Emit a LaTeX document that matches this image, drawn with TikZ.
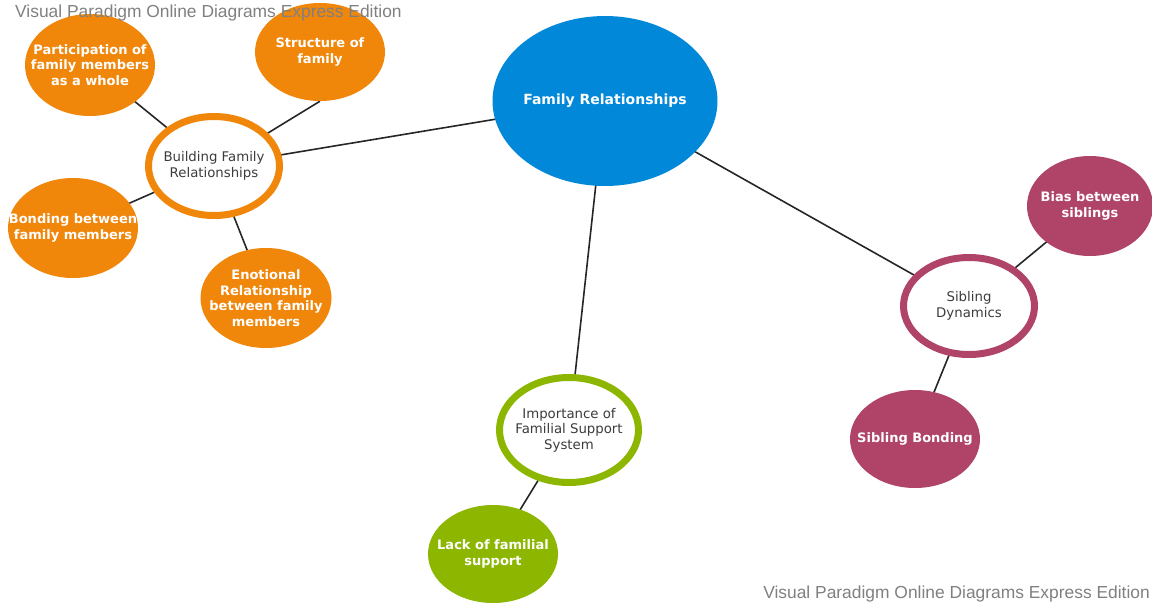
\documentclass[tikz,border=0pt]{standalone}
\usepackage{fontspec}
\setmainfont{Liberation Sans}
\newfontfamily\cfont{DejaVu Sans}
\usetikzlibrary{shapes.geometric,backgrounds}
\definecolor{vporange}{RGB}{240,134,10}
\definecolor{vpblue}{RGB}{2,136,216}
\definecolor{vpgreen}{RGB}{140,182,0}
\definecolor{vpmaroon}{RGB}{176,68,104}
\definecolor{ringtext}{RGB}{60,60,60}
\definecolor{wmgray}{RGB}{128,128,128}
\tikzset{
  x=1pt, y=-1pt,
  % filled bubble; its text is set as a centred label so the shape keeps its size
  bubble/.style={ellipse, inner sep=0pt},
  btext/.style={inner sep=0pt, text=white, align=center,
    font=\cfont\bfseries\fontsize{13}{15.5}\selectfont},
  % white bubble with a thick coloured rim
  ring/.style={ellipse, inner sep=0pt, fill=white, line width=7pt},
  rtext/.style={inner sep=0pt, text=ringtext, align=center,
    font=\cfont\fontsize{13.3}{15.5}\selectfont},
  link/.style={line width=1.6pt, draw=black!85},
  wmark/.style={text=wmgray, font=\fontsize{17.4}{20}\selectfont, inner sep=0pt}
}
\begin{document}
\begin{tikzpicture}
\useasboundingbox (0,0) rectangle (1152,603);
% central topic
\node[bubble, fill=vpblue, minimum width=225pt, minimum height=170pt,
      label={[btext, font=\cfont\bfseries\fontsize{14}{16}\selectfont]center:Family Relationships}] (fam) at (605,101) {};
% first level rings
\node[ring, draw=vporange, minimum width=131pt, minimum height=99pt,
      label={[rtext]center:{Building Family\\Relationships}}] (build) at (214,166) {};
\node[ring, draw=vpgreen, minimum width=139pt, minimum height=105pt,
      label={[rtext]center:{Importance of\\Familial Support\\System}}] (supp) at (569,430) {};
\node[ring, draw=vpmaroon, minimum width=131pt, minimum height=97pt,
      label={[rtext]center:{Sibling\\Dynamics}}] (sib) at (969,306) {};
% leaves
\node[bubble, fill=vporange, minimum width=130pt, minimum height=102pt,
      label={[btext]center:{Participation of\\family members\\as a whole}}] (part) at (90,65) {};
\node[bubble, fill=vporange, minimum width=130pt, minimum height=98pt,
      label={[btext]center:{Structure of\\family}}] (struct) at (320,52) {};
\node[bubble, fill=vporange, minimum width=130pt, minimum height=100pt,
      label={[btext]center:{Bonding between\\family members}}] (bond) at (73,228) {};
\node[bubble, fill=vporange, minimum width=131pt, minimum height=100pt,
      label={[btext]center:{Enotional\\Relationship\\between family\\members}}] (emo) at (266,298) {};
\node[bubble, fill=vpgreen, minimum width=130pt, minimum height=98pt,
      label={[btext]center:{Lack of familial\\support}}] (lack) at (493,554) {};
\node[bubble, fill=vpmaroon, minimum width=126pt, minimum height=100pt,
      label={[btext]center:{Bias between\\siblings}}] (bias) at (1090,206) {};
\node[bubble, fill=vpmaroon, minimum width=130pt, minimum height=98pt,
      label={[btext]center:Sibling Bonding}] (sbond) at (915,439) {};
% connectors, kept behind the bubbles
\begin{pgfonlayer}{background}
\draw[link] (fam.center) -- (build.center);
\draw[link] (fam.center) -- (supp.center);
\draw[link] (fam.center) -- (sib.center);
\draw[link] (build.center) -- (part.center);
\draw[link] (struct.south) -- (build.center);
\draw[link] (build.center) -- (bond.center);
\draw[link] (build.center) -- (emo.center);
\draw[link] (supp.center) -- (lack.center);
\draw[link] (sib.center) -- (bias.center);
\draw[link] (sib.center) -- (sbond.center);
\end{pgfonlayer}
% watermarks
\node[wmark, anchor=west] (wm1) at (15,13) {Visual Paradigm Online Diagrams Express Edition};
\node[wmark, anchor=east] (wm2) at (1150,594) {Visual Paradigm Online Diagrams Express Edition};
\end{tikzpicture}
\end{document}
